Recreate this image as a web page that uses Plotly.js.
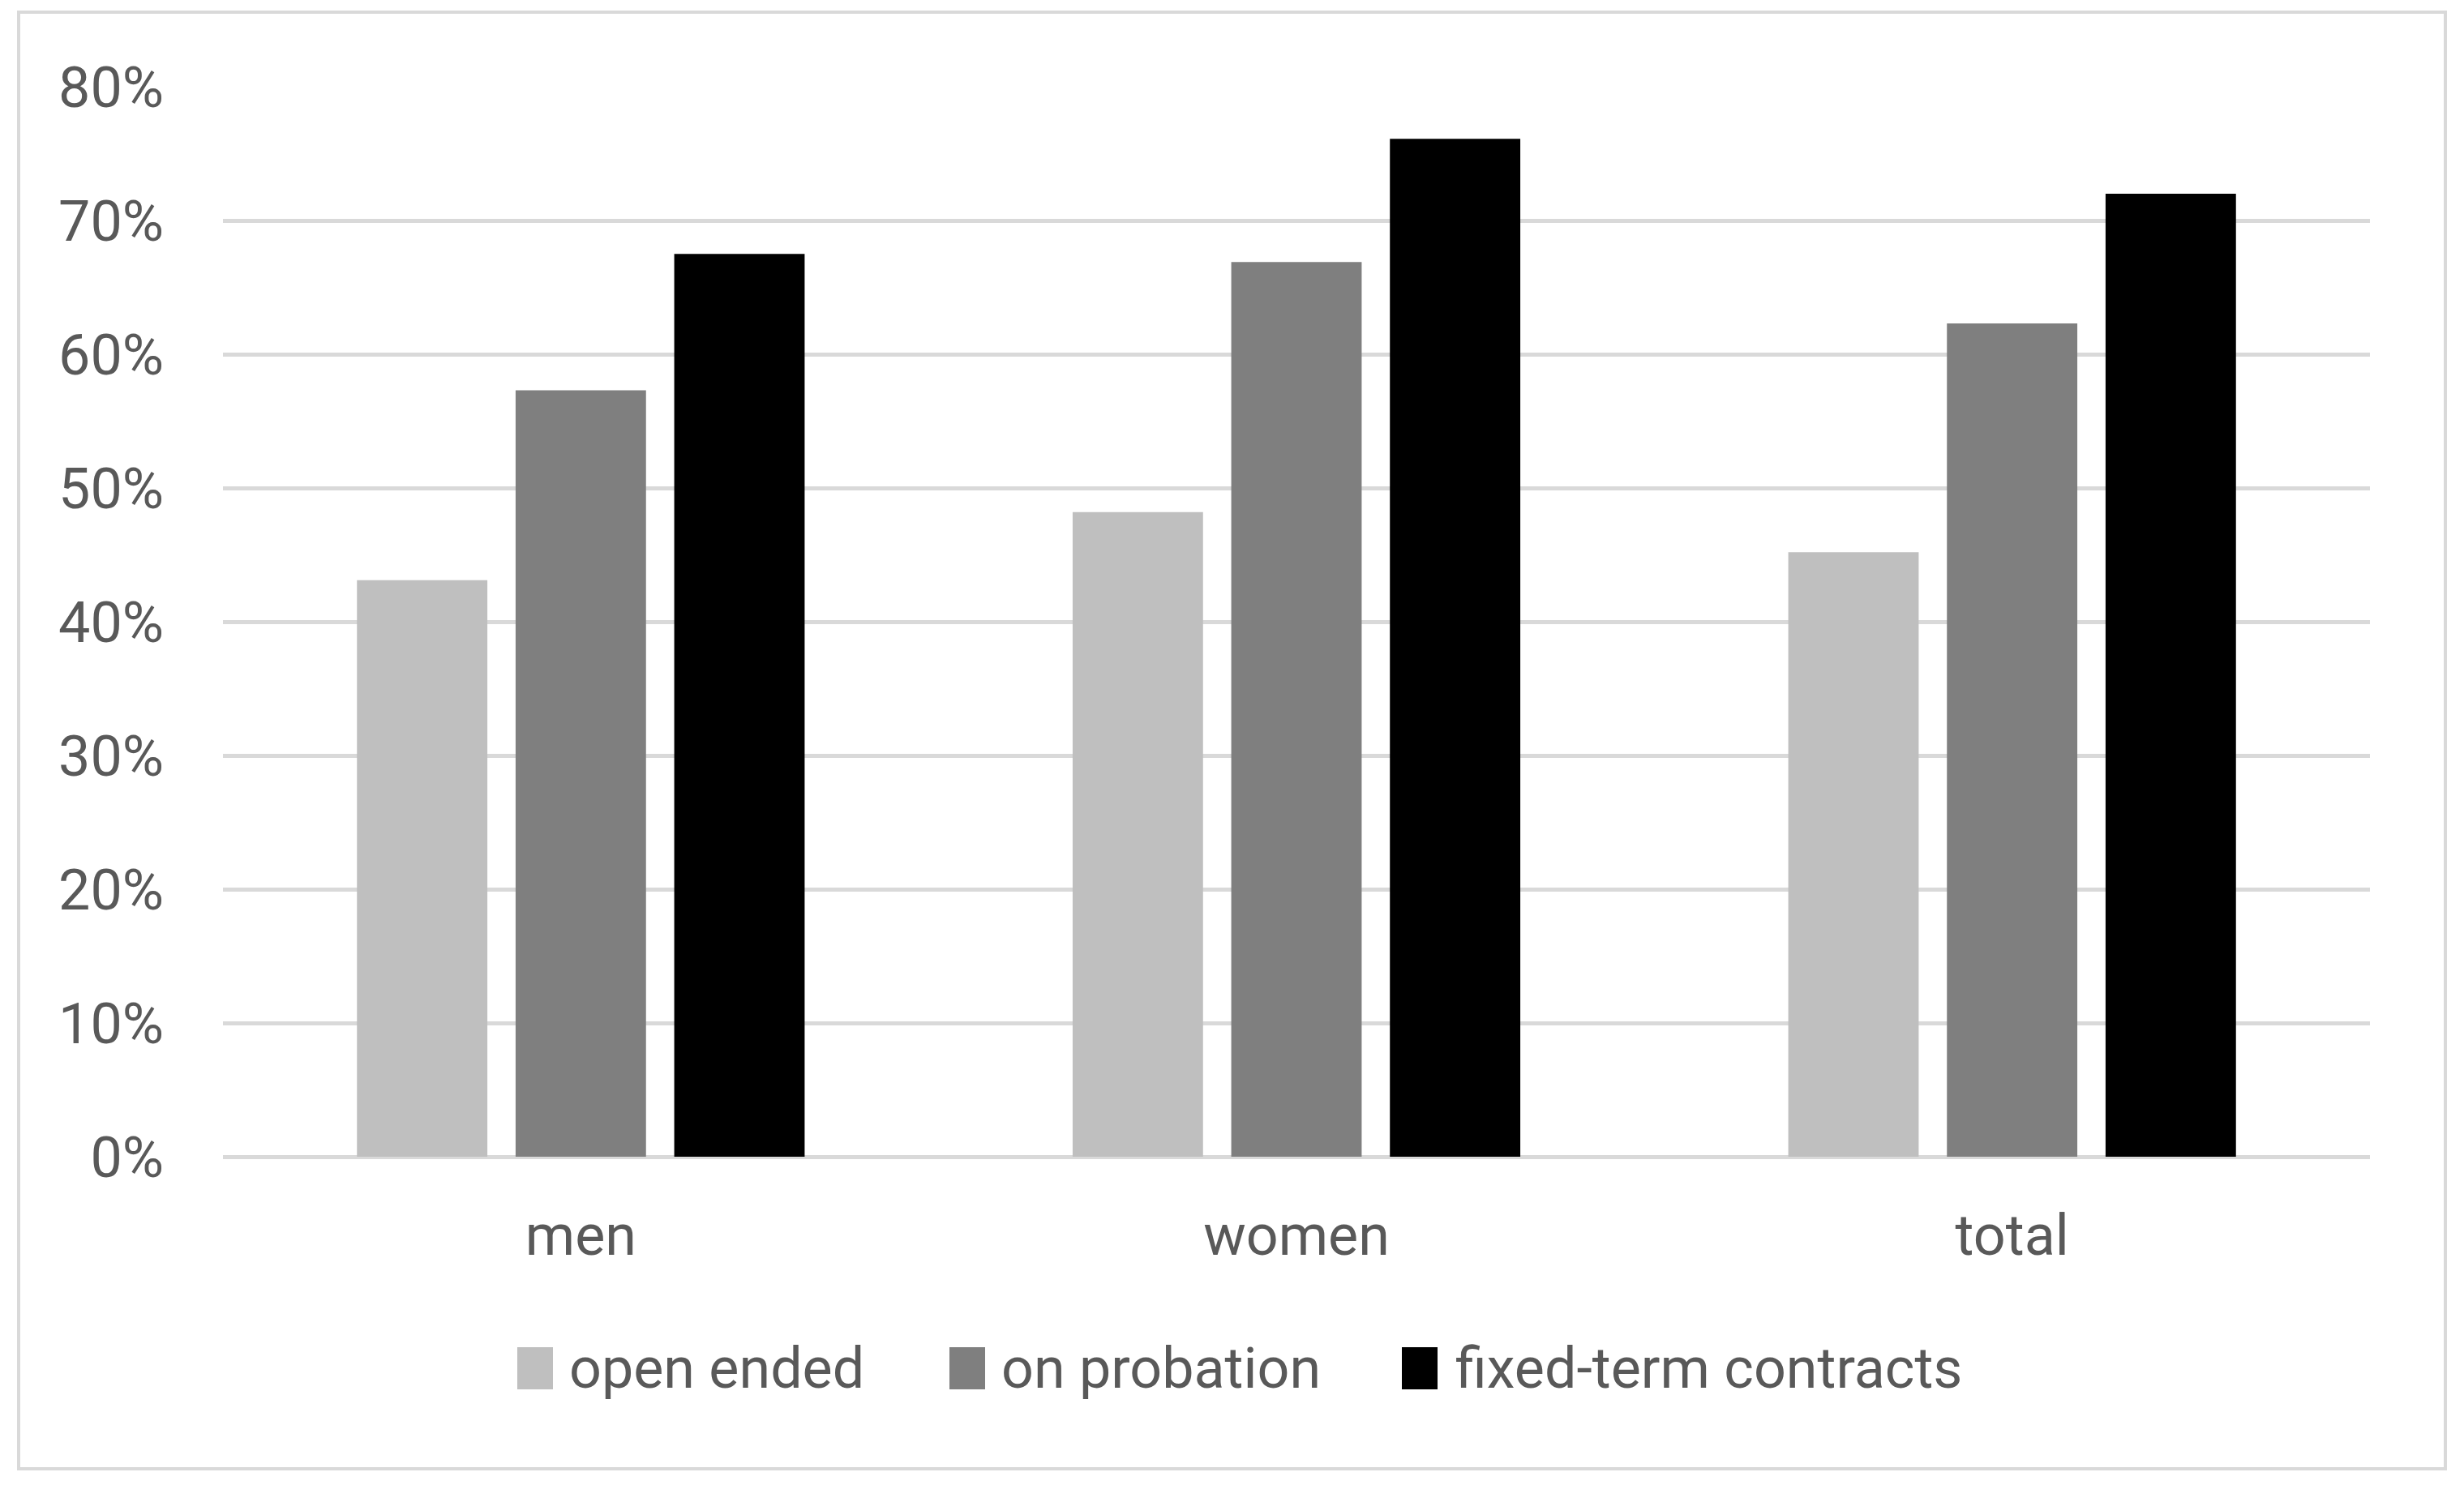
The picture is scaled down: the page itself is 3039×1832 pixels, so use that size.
<!DOCTYPE html>
<html>
<head>
<meta charset="utf-8">
<script src="https://cdn.plot.ly/plotly-3.0.1.min.js"></script>
<style>
  html, body { margin: 0; padding: 0; background: #ffffff; }
  #chart { width: 3039px; height: 1832px; }
</style>
</head>
<body>
<div id="chart"></div>
<script>
// ---- data ----
const categories = ["men", "women", "total"];
const seriesNames = ["open ended", "on probation", "fixed-term contracts"];
const openEnded = [0.431, 0.482, 0.452];
const onProbation = [0.573, 0.669, 0.623];
const fixedTerm = [0.675, 0.761, 0.720];
const yTickValues = [0, 0.1, 0.2, 0.3, 0.4, 0.5, 0.6, 0.7, 0.8];

// ---- styling ----
const colors = ["#bfbfbf", "#7f7f7f", "#000000"];
const textColor = "#595959";
const fontFamily = "Roboto, 'Open Sans', sans-serif";
const W = 3039, H = 1832;
const M = { l: 275, r: 116, t: 107, b: 405 };
const plotW = W - M.l - M.r, plotH = H - M.t - M.b;
const px2x = (px) => (px - M.l) / plotW;
const py2y = (py) => (H - M.b - py) / plotH;

const seriesValues = [openEnded, onProbation, fixedTerm];
const traces = seriesValues.map((vals, i) => ({
  type: "bar",
  name: seriesNames[i],
  x: categories,
  y: vals,
  marker: { color: colors[i], line: { width: 0 } },
  showlegend: false,
  hoverinfo: "x+y+name"
}));

// manual legend (plotly legend symbols cannot be enlarged)
const legendSquares = [638, 1171, 1729];
const legendTexts = [700, 1233, 1793];
const legendCy = 1688;
const shapes = [];
const annotations = [];
seriesNames.forEach((name, i) => {
  shapes.push({
    type: "rect", xref: "paper", yref: "paper",
    x0: px2x(legendSquares[i]), x1: px2x(legendSquares[i] + 44),
    y0: py2y(legendCy - 26), y1: py2y(legendCy + 26),
    fillcolor: colors[i], line: { width: 0 }
  });
  annotations.push({
    xref: "paper", yref: "paper",
    x: px2x(legendTexts[i]), y: py2y(legendCy),
    xanchor: "left", yanchor: "middle",
    text: name, showarrow: false,
    font: { family: fontFamily, size: 70, color: textColor }
  });
});
// outer chart border
shapes.push({
  type: "rect", xref: "paper", yref: "paper",
  x0: px2x(23), x1: px2x(3016), y0: py2y(1812), y1: py2y(15),
  line: { color: "#d9d9d9", width: 4 }, fillcolor: "rgba(0,0,0,0)", layer: "below"
});

const layout = {
  width: W, height: H,
  margin: M,
  paper_bgcolor: "#ffffff",
  plot_bgcolor: "#ffffff",
  barmode: "group",
  bargap: 0.335,
  bargroupgap: 0.178,
  font: { family: fontFamily, size: 70, color: textColor },
  xaxis: {
    type: "category",
    showgrid: false,
    showline: false,
    zeroline: false,
    ticks: "",
    ticklabelstandoff: 50,
    tickfont: { family: fontFamily, size: 70, color: textColor }
  },
  yaxis: {
    range: [0, 0.8],
    tickvals: yTickValues,
    tickformat: ".0%",
    showgrid: true,
    gridcolor: "#d9d9d9",
    gridwidth: 5,
    zeroline: true,
    zerolinecolor: "#d9d9d9",
    zerolinewidth: 5,
    showline: false,
    ticks: "",
    ticklabelstandoff: 72,
    tickfont: { family: fontFamily, size: 70, color: textColor }
  },
  shapes: shapes,
  annotations: annotations,
  showlegend: false
};

Plotly.newPlot("chart", traces, layout, { staticPlot: true, displayModeBar: false });
</script>
</body>
</html>
